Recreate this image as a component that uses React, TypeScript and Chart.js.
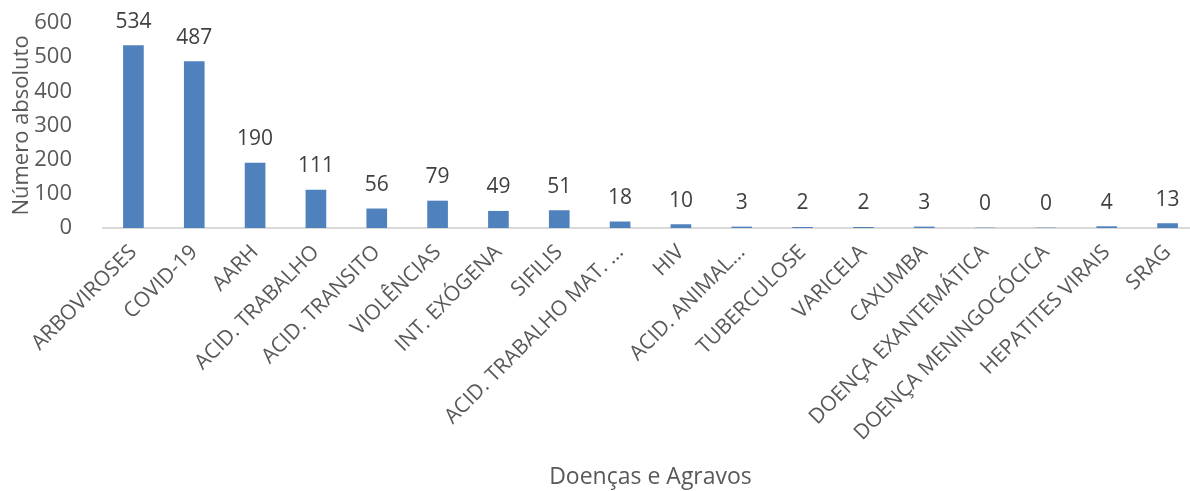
import React, { useEffect, useRef } from "react";
import { Chart, registerables } from "chart.js";

Chart.register(...registerables);

const categories = [
  "ARBOVIROSES",
  "COVID-19",
  "AARH",
  "ACID. TRABALHO",
  "ACID. TRANSITO",
  "VIOLÊNCIAS",
  "INT. EXÓGENA",
  "SIFILIS",
  "ACID. TRABALHO MAT. ...",
  "HIV",
  "ACID. ANIMAL...",
  "TUBERCULOSE",
  "VARICELA",
  "CAXUMBA",
  "DOENÇA EXANTEMÁTICA",
  "DOENÇA MENINGOCÓCICA",
  "HEPATITES VIRAIS",
  "SRAG",
];

const casos = [534, 487, 190, 111, 56, 79, 49, 51, 18, 10, 3, 2, 2, 3, 0, 0, 4, 13];

const yTicks = [0, 100, 200, 300, 400, 500, 600];

const FONT = "'Open Sans', 'DejaVu Sans', sans-serif";

// Writes each bar's value above it
const valueLabels = {
  id: "valueLabels",
  afterDatasetsDraw(chart: any) {
    const { ctx } = chart;
    const meta = chart.getDatasetMeta(0);
    ctx.save();
    ctx.font = `21px ${FONT}`;
    ctx.fillStyle = "#404040";
    ctx.textAlign = "center";
    ctx.textBaseline = "alphabetic";
    meta.data.forEach((bar: any, i: number) => {
      ctx.fillText(String(casos[i]), bar.x, bar.y - 18);
    });
    ctx.restore();
  },
};

export default function App() {
  const canvasRef = useRef<HTMLCanvasElement | null>(null);

  useEffect(() => {
    if (!canvasRef.current) return;
    const chart = new Chart(canvasRef.current, {
      type: "bar",
      data: {
        labels: categories,
        datasets: [
          {
            data: casos,
            backgroundColor: "#4F81BD",
            barThickness: 20,
          },
        ],
      },
      options: {
        animation: false,
        responsive: false,
        layout: { padding: { top: 23, right: 2, left: 0, bottom: 0 } },
        plugins: {
          legend: { display: false },
          tooltip: { enabled: false },
        },
        scales: {
          x: {
            grid: { display: true, color: "rgba(0,0,0,0)", drawTicks: false },
            border: { display: true, color: "#D9D9D9", width: 2 },
            ticks: {
              autoSkip: false,
              minRotation: 45,
              maxRotation: 45,
              padding: 12,
              color: "#595959",
              font: { family: FONT, size: 21 },
            },
            title: {
              display: true,
              text: "Doenças e Agravos",
              color: "#595959",
              font: { family: FONT, size: 23 },
              padding: { top: 0, bottom: 0 },
            },
            afterFit(scale: any) {
              scale.height = 491 - 228;
            },
          },
          y: {
            min: 0,
            max: 600,
            grid: { display: false },
            border: { display: false },
            afterBuildTicks(scale: any) {
              scale.ticks = yTicks.map((v) => ({ value: v }));
            },
            ticks: {
              padding: 23,
              color: "#595959",
              font: { family: FONT, size: 22 },
            },
            title: {
              display: true,
              text: "Número absoluto",
              color: "#595959",
              font: { family: FONT, size: 22 },
              padding: { top: 9, bottom: 0 },
            },
            afterFit(scale: any) {
              scale.width = 103;
              // the label gap should not push the plot area down
              scale.paddingTop = 12;
              scale.paddingBottom = 12;
            },
          },
        },
      },
      plugins: [valueLabels],
    });
    return () => chart.destroy();
  }, []);

  return (
    <div
      style={{
        position: "fixed",
        left: 0,
        top: 0,
        width: 1190,
        height: 491,
        overflow: "hidden",
        background: "#FFFFFF",
      }}
    >
      <canvas ref={canvasRef} width={1200} height={491} style={{ display: "block" }} />
    </div>
  );
}
